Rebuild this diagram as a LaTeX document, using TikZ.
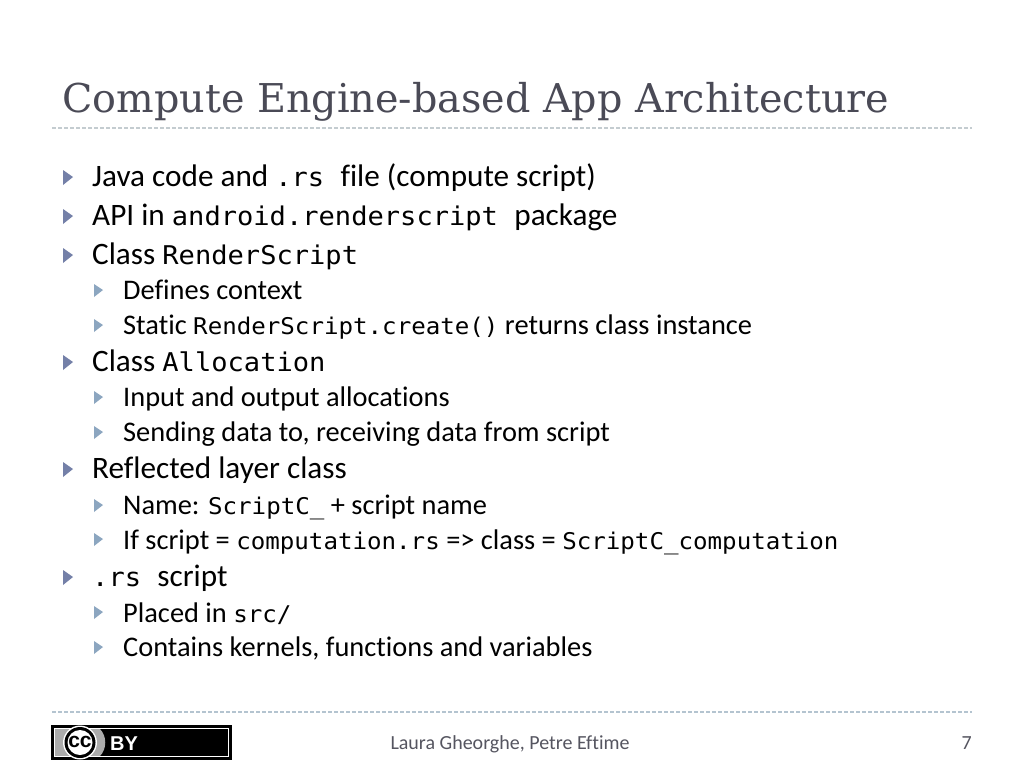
\documentclass[tikz,border=0pt]{standalone}
\usepackage{fontspec}
\setmainfont[Ligatures=NoCommon]{Carlito}
\setmonofont[FakeStretch=1.05]{DejaVu Sans Mono}
\newfontfamily\titlefont{DejaVu Serif}
\newfontfamily\badgefont{Liberation Sans}
\definecolor{titlegray}{HTML}{4A4A56}
\definecolor{bullet}{HTML}{7480A8}
\definecolor{bullettwo}{HTML}{8CA6C0}
\definecolor{footgray}{HTML}{555560}
\definecolor{rulegray}{HTML}{C4CCD0}
\definecolor{rulebottom}{HTML}{B4C4D0}
\newcommand{\la}[1]{{\fontsize{25.8}{30}\ttfamily\selectfont #1}}
\newcommand{\lb}[1]{{\fontsize{23}{28}\ttfamily\selectfont #1}}
\tikzset{
  x=1pt,y=-1pt,
  lone/.style={anchor=base west,inner sep=0pt,font=\fontsize{31.2}{34}\selectfont,text=black},
  ltwo/.style={anchor=base west,inner sep=0pt,font=\fontsize{28.4}{32}\selectfont,text=black},
  footer/.style={anchor=base,inner sep=0pt,font=\fontsize{20}{24}\selectfont,text=footgray},
}
\newcommand{\bulone}[1]{\fill[bullet] (63,#1-8) -- (73,#1-1) -- (63,#1+7) -- cycle;}
\newcommand{\bultwo}[1]{\fill[bullettwo] (94,#1-7) -- (103,#1-1) -- (94,#1+6) -- cycle;}
\begin{document}
\begin{tikzpicture}
\useasboundingbox (0,0) rectangle (1024,768);
\fill[white] (0,0) rectangle (1024,768);
\node[anchor=base west,inner sep=0pt,text=titlegray,font=\fontsize{39.7}{44}\titlefont\selectfont] (title) at (62,112.5) {Compute Engine-based App Architecture};
\draw[rulegray,line width=1.2pt,dash pattern=on 3.5pt off 2.5pt] (52,128) -- (972,128);
\bulone{178}\bulone{217}\bulone{256}\bulone{363}\bulone{470}\bulone{578}
\bultwo{291}\bultwo{326}\bultwo{398}\bultwo{433}\bultwo{506}\bultwo{540}\bultwo{613}\bultwo{648}
\node[lone] (a1) at (92,186) {Java code and \la{.rs }file (compute script)};
\node[lone] (a2) at (92,225) {API in \la{android.renderscript }package};
\node[lone] (a3) at (92,264) {Class \la{RenderScript}};
\node[ltwo] (b1) at (123,299) {Defines context};
\node[ltwo] (b2) at (123,334) {Static \lb{RenderScript.create()} returns class instance};
\node[lone] (a4) at (92,371) {Class \la{Allocation}};
\node[ltwo] (b3) at (123,406) {Input and output allocations};
\node[ltwo] (b4) at (123,441) {Sending data to, receiving data from script};
\node[lone] (a5) at (92,478) {Reflected layer class};
\node[ltwo] (b5) at (123,514) {Name: \lb{ScriptC\_} + script name};
\node[ltwo] (b6) at (123,549) {If script = \lb{computation.rs} => class = \lb{ScriptC\_computation}};
\node[lone] (a6) at (92,586) {\la{.rs }script};
\node[ltwo] (b7) at (123,622) {Placed in \lb{src/}};
\node[ltwo] (b8) at (123,656) {Contains kernels, functions and variables};
\draw[rulebottom,line width=1.2pt,dash pattern=on 3.5pt off 2.5pt] (52,712) -- (972,712);
\fill[black] (51,725) rectangle (232,760);
\fill[white] (54,728) rectangle (229,757);
\fill[black] (55,729) rectangle (228,756);
\fill[gray!65] (55,729) rectangle (100,756);
\fill[gray!65] (100,729) .. controls (107,736) and (107,749) .. (100,756) -- cycle;
\fill[white] (80,742.5) circle (17);
\fill[black] (80,742.5) circle (15.5);
\fill[white] (80,742.5) circle (12.5);
\node[inner sep=0pt,text=black,font=\fontsize{21}{22}\badgefont\bfseries\selectfont] (cc) at (80,741.5) {cc};
\node[anchor=base west,inner sep=0pt,text=white,font=\fontsize{20}{22}\badgefont\bfseries\selectfont] (by) at (110,750) {BY};
\node[footer] (auth) at (510,749) {Laura Gheorghe, Petre Eftime};
\node[footer,anchor=base east] (num) at (972,749) {7};
\end{tikzpicture}
\end{document}
